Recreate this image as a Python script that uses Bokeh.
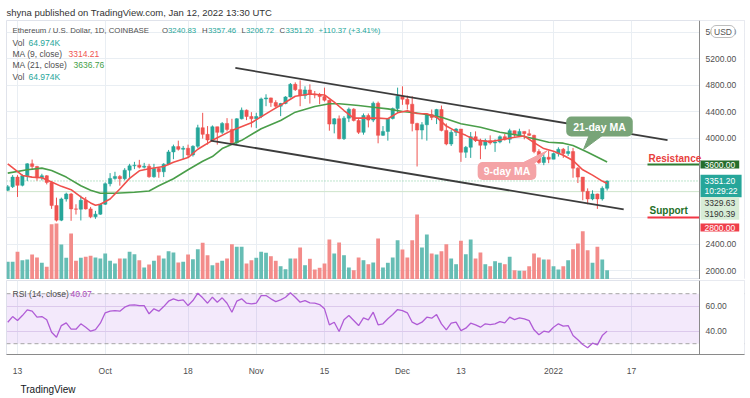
import pandas as pd
from bokeh.plotting import figure
from bokeh.layouts import column
from bokeh.models import (Range1d, FixedTicker, Label, Span, BoxAnnotation, Title,
                          ColumnDataSource)
from bokeh.embed import file_html
from bokeh.resources import INLINE
from bokeh.core.properties import value

# ---------------- data ----------------
first_day = "2021-09-11"
last_day = "2022-01-12"
anchor_day = "2021-09-13"

opens = [3210, 3265, 3410, 3285, 3430, 3610, 3570, 3400, 3430, 3330,
         2980, 2760, 3080, 3155, 2930, 2925, 3060, 2930, 2810, 2850,
         3000, 3310, 3390, 3420, 3385, 3515, 3580, 3590, 3560, 3575,
         3415, 3540, 3490, 3605, 3790, 3870, 3830, 3845, 3745, 3875,
         4155, 4055, 3970, 4170, 4085, 4220, 4130, 3930, 4290, 4420,
         4325, 4290, 4325, 4590, 4605, 4535, 4480, 4520, 4620, 4810,
         4730, 4640, 4725, 4665, 4650, 4625, 4570, 4210, 4290, 3990,
         4300, 4435, 4265, 4085, 4340, 4270, 4525, 4040, 4100, 4295,
         4445, 4630, 4585, 4510, 4220, 4120, 4200, 4355, 4310, 4430,
         4115, 3910, 4085, 4135, 3785, 3860, 4020, 3960, 3890, 3960,
         3925, 3940, 4020, 3980, 4110, 4045, 4100, 4065, 4040, 3795,
         3630, 3710, 3680, 3765, 3830, 3765, 3795, 3545, 3410, 3195,
         3080, 3155, 3080, 3240.83]
highs = [3290, 3440, 3440, 3450, 3620, 3675, 3580, 3460, 3440, 3350,
         3100, 3100, 3175, 3170, 3000, 3130, 3110, 2960, 2900, 3010,
         3330, 3470, 3490, 3440, 3545, 3610, 3640, 3670, 3625, 3610,
         3610, 3550, 3620, 3820, 3900, 3960, 3880, 3900, 3890, 4200,
         4380, 4180, 4190, 4170, 4240, 4300, 4290, 4300, 4460, 4430,
         4390, 4380, 4610, 4660, 4610, 4570, 4530, 4630, 4830, 4840,
         4870, 4780, 4810, 4710, 4680, 4760, 4580, 4300, 4340, 4330,
         4460, 4450, 4300, 4370, 4370, 4550, 4550, 4180, 4300, 4460,
         4760, 4780, 4640, 4630, 4230, 4240, 4370, 4430, 4440, 4490,
         4220, 4120, 4150, 4130, 3880, 4090, 4100, 3990, 3990, 4040,
         3980, 4040, 4060, 4140, 4110, 4140, 4100, 4130, 4050, 3830,
         3770, 3810, 3780, 3860, 3850, 3880, 3850, 3560, 3410, 3240,
         3210, 3160, 3270, 3357.46]
lows = [3200, 3245, 3110, 3270, 3350, 3530, 3355, 3360, 3300, 2930,
        2740, 2745, 3040, 2750, 2845, 2755, 2920, 2790, 2780, 2840,
        2990, 3270, 3370, 3280, 3360, 3400, 3530, 3540, 3540, 3400,
        3400, 3400, 3410, 3590, 3680, 3810, 3680, 3700, 3720, 3850,
        3990, 3900, 3960, 3900, 4060, 4100, 3920, 3900, 4280, 4270,
        4160, 4150, 4300, 4480, 4470, 4460, 4330, 4510, 4610, 4710,
        4480, 4590, 4520, 4600, 4510, 4550, 4110, 4070, 3980, 3970,
        4240, 4250, 4060, 4050, 4160, 4240, 3920, 4030, 3960, 4280,
        4380, 4500, 4430, 4100, 3570, 3980, 3960, 4270, 4210, 4100,
        3890, 3880, 4030, 3640, 3700, 3700, 3940, 3680, 3830, 3900,
        3790, 3920, 3960, 3920, 4020, 4030, 3980, 4030, 3770, 3610,
        3590, 3620, 3680, 3720, 3700, 3730, 3400, 3320, 3060, 3000,
        3060, 2930, 3055, 3206.72]
closes = [3265, 3410, 3285, 3430, 3610, 3570, 3400, 3430, 3330, 2980,
          2760, 3080, 3155, 2930, 2925, 3060, 2930, 2810, 2850, 3000,
          3310, 3390, 3420, 3385, 3515, 3580, 3590, 3560, 3575, 3415,
          3540, 3490, 3605, 3790, 3870, 3830, 3845, 3745, 3875, 4155,
          4055, 3970, 4170, 4085, 4220, 4130, 3930, 4290, 4420, 4325,
          4290, 4325, 4590, 4605, 4535, 4480, 4520, 4620, 4810, 4730,
          4640, 4725, 4665, 4650, 4625, 4570, 4210, 4290, 3990, 4300,
          4435, 4265, 4085, 4340, 4270, 4525, 4040, 4100, 4295, 4445,
          4630, 4585, 4510, 4220, 4120, 4200, 4355, 4310, 4430, 4115,
          3910, 4085, 4135, 3785, 3860, 4020, 3960, 3890, 3960, 3925,
          3940, 4020, 3980, 4110, 4045, 4100, 4065, 4040, 3795, 3630,
          3710, 3680, 3765, 3830, 3765, 3795, 3545, 3410, 3195, 3080,
          3155, 3080, 3240.83, 3351.20]
volumes_k = [124, 124, 194, 135, 140, 175, 154, 117, 89, 387,
             392, 245, 152, 322, 131, 152, 159, 166, 154, 147,
             182, 131, 112, 147, 147, 194, 177, 135, 84, 105,
             131, 168, 147, 198, 189, 119, 124, 175, 142, 212,
             257, 170, 100, 117, 131, 147, 247, 229, 229, 112,
             135, 152, 194, 187, 163, 131, 93, 72, 147, 147,
             224, 100, 145, 70, 82, 112, 280, 182, 259, 170,
             84, 65, 154, 135, 107, 119, 287, 84, 117, 154,
             275, 210, 154, 275, 455, 224, 315, 182, 175, 198,
             247, 147, 107, 271, 177, 280, 147, 189, 107, 93,
             128, 117, 107, 159, 65, 61, 61, 93, 182, 154,
             140, 140, 93, 70, 93, 135, 212, 252, 338, 205,
             117, 229, 140, 64.974]

ma9_days = [-2, 1, 3, 5, 7, 9, 11, 13, 15, 16, 17, 19, 21, 23, 25, 27, 30, 32, 35, 37,
            40, 44, 48, 52, 55, 57, 60, 63, 65, 67, 69, 71, 74, 76, 78, 80, 82, 84, 86, 88,
            90, 92, 94, 97, 99, 102, 104, 106, 108, 110, 112, 114, 116, 118, 120, 121]
ma9_values = [3610, 3435, 3410, 3400, 3335, 3270, 3220, 3110, 3020, 2985,
              3000, 3080, 3230, 3390, 3505, 3535, 3570, 3635, 3705, 3830,
              3965, 4115, 4230, 4410, 4540, 4630, 4665, 4650, 4540, 4415,
              4300, 4300, 4300, 4290, 4380, 4410, 4370, 4365, 4314, 4180,
              4100, 4040, 3970, 3945, 3970, 4012, 4030, 3930, 3840, 3800,
              3740, 3660, 3520, 3440, 3350, 3314.21]
ma21_days = [-2, 2, 5, 7, 10, 13, 15, 17, 20, 24, 27, 29, 32, 35, 38, 40, 42, 46, 50, 54,
             57, 61, 64, 66, 70, 73, 76, 79, 81, 83, 87, 91, 95, 99, 103, 106, 109, 112, 114,
             117, 121]
ma21_values = [3470, 3520, 3545, 3510, 3410, 3280, 3210, 3167, 3167, 3180,
               3200, 3280, 3385, 3520, 3650, 3720, 3840, 3965, 4140, 4265,
               4390, 4475, 4516, 4516, 4490, 4465, 4440, 4400, 4385, 4365,
               4314, 4214, 4163, 4088, 4038, 3988, 3937, 3922, 3887, 3786, 3636.76]
rsi_values = [47.2, 51.7, 48.5, 52.5, 57.1, 56.0, 51.2, 51.7, 49.1, 39.2,
              35.2, 44.5, 46.7, 41.6, 41.6, 45.9, 43.2, 40.0, 41.3, 46.4,
              54.7, 56.0, 56.5, 56.0, 59.2, 60.8, 61.1, 60.5, 60.5, 53.9,
              57.9, 56.0, 59.7, 64.0, 65.9, 64.5, 65.1, 60.5, 64.5, 70.4,
              66.7, 62.4, 67.2, 63.2, 66.7, 62.4, 55.2, 64.0, 65.9, 62.4,
              61.9, 62.4, 68.5, 68.5, 65.9, 63.7, 65.1, 67.2, 70.7, 67.2,
              63.2, 64.5, 62.7, 62.4, 61.3, 57.9, 45.1, 47.2, 39.7, 49.1,
              52.5, 48.5, 44.5, 50.7, 49.1, 55.2, 45.1, 45.9, 49.9, 53.3,
              57.3, 56.5, 54.7, 47.2, 45.3, 47.2, 51.2, 50.4, 53.3, 45.9,
              41.1, 46.4, 47.2, 40.5, 42.4, 46.4, 45.1, 43.2, 45.9, 45.3,
              45.9, 47.7, 46.7, 51.2, 49.3, 50.7, 49.9, 48.5, 41.1, 37.1,
              40.0, 39.2, 43.2, 45.9, 44.0, 44.5, 36.5, 33.1, 29.3, 26.7,
              30.4, 29.1, 36.5, 40.07]

tick_days = [0, 18, 35, 49, 63, 79, 91, 110, 126]
tick_labels = ["13", "Oct", "18", "Nov", "15", "Dec", "13", "2022", "17"]
price_ticks = [2000, 2400, 4000, 4400, 4800, 5200, 5600]
price_grid = [2000, 2400, 2800, 3200, 3600, 4000, 4400, 4800, 5200, 5600]
rsi_ticks = [40, 60]
rsi_band = [30, 70]

upper_channel_days = [44.7, 133.4]
upper_channel_prices = [5057, 3968]
lower_channel_days = [39.6, 124.4]
lower_channel_prices = [3962, 2921]
resistance_level = 3600
support_level = 2800
last_price = 3351.20
second_level = 3190.39

# ---------------- styling / layout ----------------
FONT = "Liberation Sans"
TEAL = "#26a69a"
RED = "#ef5350"
GREY = "#4f4f4f"
GRID = "#e9eef3"

X_SEP13, PX_DAY = 17.0, 4.873          # page x of 13 Sep, px per day
Y_5200, PX_USD = 58.0, 0.06625         # page y of 5200, px per dollar
Y_RSI60, PX_RSI = 305.7, 1.25          # page y of RSI 60, px per RSI point
AXIS_X = 699                           # page x of the price-scale separator
LABEL_X = 705                          # page x where scale labels start
RIGHT_X = 744                          # page x of the chart's right border


def dx(X):
    return (X - X_SEP13) / PX_DAY


def py(Y):
    return 5200 - (Y - Y_5200) / PX_USD


def ry(Y):
    return 60 - (Y - Y_RSI60) / PX_RSI


def scale_strip(fig, ticks):
    """White price-scale strip right of the separator, with its tick labels."""
    fig.add_layout(BoxAnnotation(left=dx(AXIS_X), fill_color="white", fill_alpha=1,
                                 line_color=None, level="underlay"))
    fig.add_layout(Span(location=dx(AXIS_X), dimension="height", line_color="#8a8a8a",
                        line_width=1))
    fig.text(x=[dx(LABEL_X)] * len(ticks), y=ticks, text=[f"{t:.2f}" for t in ticks],
             text_font=value(FONT), text_font_size="8.5px", text_color=GREY,
             text_align="left", text_baseline="middle")


def add_text(fig, X, Y, s, color, size="8.5px", bold=False, conv=py, align="left", **kw):
    fig.add_layout(Label(x=dx(X), y=conv(Y), text=s, text_color=color,
                         text_font=FONT, text_font_size=size,
                         text_font_style="bold" if bold else "normal",
                         text_align=align, text_baseline="middle", **kw))


dates = pd.date_range(first_day, last_day, freq="D")
day = [(d - pd.Timestamp(anchor_day)).days for d in dates]
up = [c >= o for o, c in zip(opens, closes)]
src = ColumnDataSource(dict(
    day=day, open=opens, high=highs, low=lows, close=closes,
    top=[max(o, c) for o, c in zip(opens, closes)],
    bottom=[min(o, c) for o, c in zip(opens, closes)],
    color=[TEAL if u else RED for u in up],
    vcolor=["#66bdb4" if u else "#f38c8a" for u in up],
    vol=volumes_k,
))

# ---------------- price pane (frame also covers the price scale strip) ----------------
p = figure(width=750, height=279, x_range=Range1d(dx(6), dx(RIGHT_X)),
           y_range=Range1d(py(279), py(20)),
           output_backend="svg", toolbar_location=None, x_axis_location=None,
           y_axis_location=None, min_border_left=6, min_border_right=750 - RIGHT_X,
           min_border_top=20, min_border_bottom=0)
p.extra_y_ranges = {"vol": Range1d(0, 259 * 7.0)}
p.outline_line_color = "#e0e3eb"
p.xgrid.ticker = FixedTicker(ticks=tick_days)
p.ygrid.ticker = FixedTicker(ticks=price_grid)
p.grid.grid_line_color = GRID

p.title.text = "shyna published on TradingView.com, Jan 12, 2022 13:30 UTC"
p.title.align = "left"
p.title.offset = 0
p.title.standoff = 5
p.title.text_font = FONT
p.title.text_font_size = "9.5px"
p.title.text_font_style = "normal"
p.title.text_color = "#333333"

# horizontal price lines
p.add_layout(Span(location=second_level, dimension="width", line_color="#cfe6cb",
                  line_width=1, level="underlay"))
p.add_layout(Span(location=last_price, dimension="width", line_color="#7ccb98",
                  line_width=1, line_dash="1 2", level="underlay"))
scale_strip(p, price_ticks)

# volume
p.vbar(x="day", width=0.78, top="vol", bottom=0, fill_color="vcolor", line_color=None,
       y_range_name="vol", source=src)
# candles
p.segment(x0="day", y0="low", x1="day", y1="high", line_color="color", line_width=1, source=src)
p.vbar(x="day", width=0.68, top="top", bottom="bottom", fill_color="color",
       line_color="color", line_width=0.5, source=src)
# moving averages
p.line(ma21_days, ma21_values, line_color="#4a9e4a", line_width=1.6)
p.line(ma9_days, ma9_values, line_color="#f0504c", line_width=1.6)
# channel
p.line(upper_channel_days, upper_channel_prices, line_color="#3c3c3c", line_width=1.8)
p.line(lower_channel_days, lower_channel_prices, line_color="#3c3c3c", line_width=1.8)
# resistance / support marks
p.line([dx(647), dx(AXIS_X)], [resistance_level, resistance_level], line_color="#2e7d32", line_width=2)
p.line([dx(647), dx(AXIS_X)], [support_level, support_level], line_color="#f23645", line_width=2)

# callouts (padding is (horizontal, vertical))
p.patch([dx(589), dx(603), dx(583)], [py(134), py(134), py(149)], color="#78a478")
p.add_layout(Label(x=dx(599), y=py(126), text="21-day MA", text_align="center",
                   text_baseline="middle", text_color="white", text_font=FONT,
                   text_font_size="10.5px", text_font_style="bold",
                   background_fill_color="#78a478", border_radius=5, padding=(7, 4)))
p.patch([dx(523), dx(535), dx(547)], [py(162), py(162), py(150)], color="#f4a3a6")
p.add_layout(Label(x=dx(506.5), y=py(170.5), text="9-day MA", text_align="center",
                   text_baseline="middle", text_color="white", text_font=FONT,
                   text_font_size="10.5px", text_font_style="bold",
                   background_fill_color="#f4a3a6", border_radius=5, padding=(6, 3)))

add_text(p, 648, 158, "Resistance", "#e8403d", size="10px", bold=True)
add_text(p, 649, 210, "Support", "#1f6f27", size="10px", bold=True)

# legend
legend_row = [(12, "Ethereum / U.S. Dollar, 1D, COINBASE", GREY), (161.5, "O", GREY),
              (167.5, "3240.83", TEAL), (201.5, "H", GREY), (207.5, "3357.46", TEAL),
              (241, "L", GREY), (245.5, "3206.72", TEAL), (279, "C", GREY),
              (285, "3351.20", TEAL), (318, "+110.37 (+3.41%)", TEAL)]
for X, s, c in legend_row:
    add_text(p, X, 29.5, s, c, size="7.8px")
add_text(p, 12, 42.5, "Vol", GREY)
add_text(p, 28, 42.5, "64.974K", TEAL)
add_text(p, 12, 53.5, "MA (9, close)", GREY)
add_text(p, 68, 53.5, "3314.21", RED)
add_text(p, 12, 64.5, "MA (21, close)", GREY)
add_text(p, 73, 64.5, "3636.76", "#43a047")
add_text(p, 12, 76.5, "Vol", GREY)
add_text(p, 28, 76.5, "64.974K", TEAL)

# price scale badges
badges = [(164, "3600.00", "#256d2b", "white"),
          (185.5, "3351.20\n10:29:22", "#26a69a", "white"),
          (208, "3329.63\n3190.39", "#d7ecd6", "#333333"),
          (227, "2800.00", "#ef3e4a", "white")]
for Y, s, bg, fg in badges:
    add_text(p, AXIS_X + 1, Y, s, fg, background_fill_color=bg, padding=(4, 1),
             text_line_height=1.05)
add_text(p, 722.5, 31, "USD", "#555555", size="8.5px", align="center",
         background_fill_color="white", border_line_color="#bdbdbd", border_radius=5,
         padding=(3, 1))

# ---------------- RSI pane ----------------
r = figure(width=750, height=119, x_range=Range1d(dx(6), dx(RIGHT_X)),
           y_range=Range1d(ry(354), ry(280)),
           output_backend="svg", toolbar_location=None, y_axis_location=None,
           min_border_left=6, min_border_right=750 - RIGHT_X, min_border_top=1,
           min_border_bottom=44)
r.outline_line_color = "#e0e3eb"
r.xgrid.ticker = FixedTicker(ticks=tick_days)
r.xgrid.grid_line_color = GRID
r.ygrid.ticker = FixedTicker(ticks=rsi_ticks)
r.ygrid.grid_line_color = "#e6dcef"
r.add_layout(BoxAnnotation(bottom=rsi_band[0], top=rsi_band[1], right=dx(AXIS_X),
                           fill_color="#8e24d8", fill_alpha=0.1, line_color=None,
                           level="underlay"))
for lv in rsi_band:
    r.add_layout(Span(location=lv, dimension="width", line_color="#a5a5a5",
                      line_width=1, line_dash="4 3", level="underlay"))
scale_strip(r, rsi_ticks)
r.line(day, rsi_values, line_color="#b05cd6", line_width=1.3)

xa = r.xaxis[0]
xa.ticker = FixedTicker(ticks=tick_days)
xa.major_label_overrides = dict(zip(tick_days, tick_labels))
xa.major_tick_line_color = None
xa.minor_tick_line_color = None
xa.axis_line_color = "#8a8a8a"
xa.major_label_text_font = FONT
xa.major_label_text_font_size = "8.5px"
xa.major_label_text_color = GREY
xa.major_label_standoff = 5

add_text(r, 12, 293, "RSI (14, close)", GREY, conv=ry)
add_text(r, 70, 293, "40.07", "#ab47bc", conv=ry)
r.add_layout(Title(text="TradingView", align="left", offset=14, standoff=7,
                   text_font=FONT, text_font_size="10px", text_font_style="normal",
                   text_color="#131722"), "below")

layout = column(p, r, spacing=0)
open("out.html", "w").write(file_html(layout, INLINE))
